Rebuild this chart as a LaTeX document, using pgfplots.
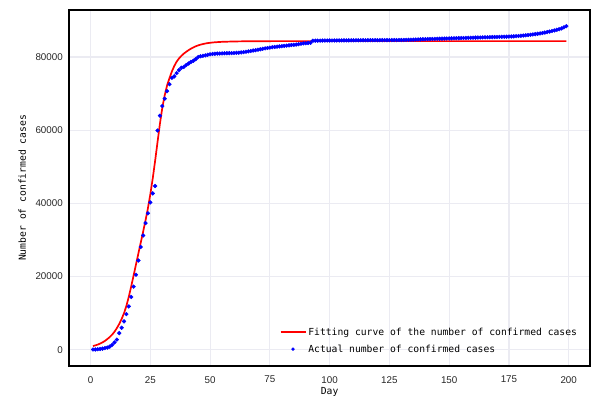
\documentclass[border=0pt]{standalone}
\usepackage{fontspec}
\setmainfont{Liberation Sans}
\newfontfamily\monofont{DejaVu Sans Mono}
\usepackage{pgfplots}
\usepackage{pgfplotstable}
\pgfplotsset{compat=1.18}
\definecolor{gridc}{RGB}{235,235,242}
\pgfplotstableread[row sep=\\]{
x y\\
1 45\\ 2 62\\ 3 121\\ 4 198\\ 5 291\\ 6 440\\ 7 574\\ 8 835\\ 9 1297\\ 10 1985\\
11 2761\\ 12 4537\\ 13 5997\\ 14 7736\\ 15 9720\\ 16 11821\\ 17 14411\\ 18 17238\\ 19 20471\\ 20 24363\\
21 28060\\ 22 31211\\ 23 34598\\ 24 37251\\ 25 40235\\ 26 42708\\ 27 44730\\ 28 59882\\ 29 63932\\ 30 66576\\
31 68584\\ 32 70635\\ 33 72528\\ 34 74280\\ 35 74675\\ 36 75569\\ 37 76392\\ 38 77041\\ 39 77262\\ 40 77780\\
41 78191\\ 42 78630\\ 43 78961\\ 44 79394\\ 45 79968\\ 46 80174\\ 47 80304\\ 48 80422\\ 49 80565\\ 50 80711\\
51 80813\\ 52 80859\\ 53 80904\\ 54 80924\\ 55 80955\\ 56 80992\\ 57 81003\\ 58 81021\\ 59 81048\\ 60 81077\\
61 81116\\ 62 81151\\ 63 81235\\ 64 81300\\ 65 81416\\ 66 81498\\ 67 81600\\ 68 81747\\ 69 81846\\ 70 81960\\
71 82078\\ 72 82213\\ 73 82341\\ 74 82447\\ 75 82545\\ 76 82631\\ 77 82724\\ 78 82802\\ 79 82875\\ 80 82930\\
81 83005\\ 82 83071\\ 83 83157\\ 84 83249\\ 85 83305\\ 86 83369\\ 87 83482\\ 88 83597\\ 89 83696\\ 90 83745\\
91 83797\\ 92 83853\\ 93 84420\\ 94 84435\\ 95 84445\\ 96 84455\\ 97 84462\\ 98 84470\\ 99 84477\\ 100 84484\\
101 84490\\ 102 84495\\ 103 84500\\ 104 84505\\ 105 84510\\ 106 84515\\ 107 84520\\ 108 84525\\ 109 84530\\ 110 84535\\
111 84540\\ 112 84543\\ 113 84546\\ 114 84549\\ 115 84552\\ 116 84555\\ 117 84558\\ 118 84561\\ 119 84564\\ 120 84567\\
121 84570\\ 122 84573\\ 123 84576\\ 124 84580\\ 125 84585\\ 126 84590\\ 127 84595\\ 128 84600\\ 129 84610\\ 130 84620\\
131 84635\\ 132 84650\\ 133 84670\\ 134 84690\\ 135 84710\\ 136 84740\\ 137 84770\\ 138 84800\\ 139 84825\\ 140 84850\\
141 84870\\ 142 84890\\ 143 84910\\ 144 84930\\ 145 84950\\ 146 84970\\ 147 84990\\ 148 85010\\ 149 85030\\ 150 85050\\
151 85070\\ 152 85090\\ 153 85110\\ 154 85130\\ 155 85150\\ 156 85170\\ 157 85190\\ 158 85210\\ 159 85230\\ 160 85250\\
161 85270\\ 162 85290\\ 163 85310\\ 164 85330\\ 165 85350\\ 166 85370\\ 167 85390\\ 168 85410\\ 169 85430\\ 170 85450\\
171 85470\\ 172 85490\\ 173 85510\\ 174 85530\\ 175 85550\\ 176 85580\\ 177 85620\\ 178 85670\\ 179 85720\\ 180 85780\\
181 85840\\ 182 85910\\ 183 85980\\ 184 86060\\ 185 86140\\ 186 86230\\ 187 86320\\ 188 86420\\ 189 86530\\ 190 86650\\
191 86780\\ 192 86920\\ 193 87070\\ 194 87230\\ 195 87400\\ 196 87580\\ 197 87790\\ 198 88070\\ 199 88400\\
}\actual
\pgfplotstableread[row sep=\\]{
x y\\
1 1000\\ 2 1180\\ 3 1400\\ 4 1670\\ 5 2000\\ 6 2400\\ 7 2900\\ 8 3450\\ 9 4100\\ 10 4900\\
11 5900\\ 12 7050\\ 13 8400\\ 14 10000\\ 15 12000\\ 16 14500\\ 17 17300\\ 18 20300\\ 19 23300\\ 20 26300\\
21 29300\\ 22 32300\\ 23 35400\\ 24 38700\\ 25 42500\\ 26 46800\\ 27 51600\\ 28 56700\\ 29 61700\\ 30 66100\\
31 69500\\ 32 72200\\ 33 74200\\ 34 76000\\ 35 77500\\ 36 78700\\ 37 79600\\ 38 80300\\ 39 80900\\ 40 81400\\
41 81850\\ 42 82250\\ 43 82600\\ 44 82900\\ 45 83150\\ 46 83350\\ 47 83520\\ 48 83660\\ 49 83770\\ 50 83860\\
52 84000\\ 55 84120\\ 60 84220\\ 65 84270\\ 70 84300\\ 80 84310\\ 199 84310\\
}\fitted
\begin{document}
\begin{tikzpicture}
\begin{axis}[
  scale only axis, width=520.7pt, height=355.7pt,
  at={(0pt,0pt)}, anchor=south west,
  xmin=-8.9, xmax=208.9, ymin=-4373, ymax=92818,
  xtick={0,25,...,200}, ytick={0,20000,40000,60000,80000},
  grid=major, major grid style={gridc, line width=1.2pt},
  major tick length=0pt,
  axis line style={black, line width=1.6pt},
  /pgf/number format/assume math mode=true,
  scaled y ticks=false,
  y tick label style={/pgf/number format/fixed, /pgf/number format/1000 sep={}},
  tick label style={font=\fontsize{9.8}{11}\selectfont, color=black!85},
  xticklabel style={yshift=-7pt},
  yticklabel style={xshift=-3pt},
  xlabel={Day}, ylabel={Number of confirmed cases},
  label style={font=\monofont\fontsize{9.7}{11}\selectfont},
  xlabel style={at={(axis description cs:0.5,-0.075)}, anchor=center},
  ylabel style={at={(axis description cs:-0.0905,0.5)}, anchor=center},
  reverse legend,
  legend cell align=left,
  legend style={at={(0.985,0.022)}, anchor=south east, draw=none, fill=none,
    font=\monofont\fontsize{9.7}{11}\selectfont, row sep=4pt},
]
\addplot[only marks, mark=*, mark size=1.9pt, color=blue,
  legend image code/.code={\fill[blue] (12.5pt,0pt) circle (1.5pt);}] table[x=x,y=y] {\actual};
\addlegendentry{Actual number of confirmed cases}
\addplot[red, line width=1.7pt, no marks,
  legend image code/.code={\draw[red,line width=1.7pt] (0pt,0pt) -- (25pt,0pt);}] table[x=x,y=y] {\fitted};
\addlegendentry{Fitting curve of the number of confirmed cases}
\end{axis}
\pgfresetboundingbox
\path (-69.3pt,-33.3pt) rectangle (522.7pt,365.7pt);
\end{tikzpicture}
\end{document}
